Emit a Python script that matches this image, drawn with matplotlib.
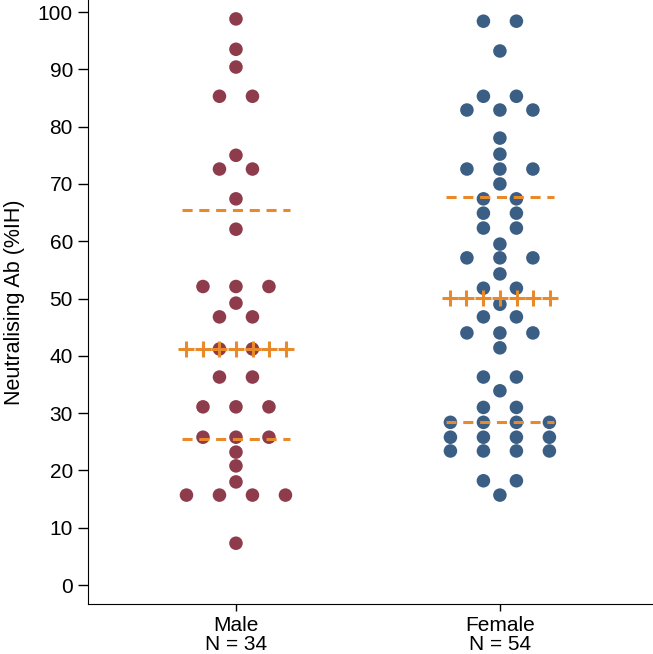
import numpy as np
import matplotlib.pyplot as plt
from collections import Counter

plt.rcParams['font.family'] = ['Liberation Sans', 'DejaVu Sans']
plt.rcParams['font.size'] = 15

# data (%IH)
groups = ['Male', 'Female']
counts = [34, 54]
male_vals = [98.8, 93.5, 90.4, 85.3, 85.3, 75.0, 72.6, 72.6, 67.4, 62.1,
             52.1, 52.1, 52.1, 49.2, 46.8, 46.8, 41.2, 41.2, 36.3, 36.3,
             31.1, 31.1, 31.1, 25.8, 25.8, 25.8, 23.2, 20.8, 18.0,
             15.7, 15.7, 15.7, 15.7, 7.3]
female_vals = [98.4, 98.4, 93.2, 85.3, 85.3, 82.9, 82.9, 82.9, 78.0, 75.2,
               72.6, 72.6, 72.6, 70.0, 67.4, 67.4, 64.9, 64.9, 62.3, 62.3,
               59.5, 57.1, 57.1, 57.1, 54.3, 51.8, 51.8, 49.0, 46.8, 46.8,
               44.0, 44.0, 44.0, 41.4, 36.3, 36.3, 33.9, 31.0, 31.0,
               28.4, 28.4, 28.4, 28.4, 25.8, 25.8, 25.8, 25.8,
               23.4, 23.4, 23.4, 23.4, 18.2, 18.2, 15.7]
# lower quartile, median, upper quartile
male_q = [25.5, 41.2, 65.4]
female_q = [28.4, 50.1, 67.7]

colors = ['#8E3B4C', '#3B5E85']
orange = '#E8892A'
dot_gap = 0.125


def dot_offsets(vals):
    # stack tied values side by side, centred on the group
    n = Counter(vals)
    seen = Counter()
    xs = []
    for v in vals:
        i = seen[v]
        seen[v] += 1
        xs.append((i - (n[v] - 1) / 2) * dot_gap)
    return np.array(xs)


fig = plt.figure(figsize=(6.53, 6.54), dpi=100)
ax = fig.add_axes([0.135, 0.0765, 0.865, 0.9235])

for pos, (vals, q, c) in enumerate(zip([male_vals, female_vals], [male_q, female_q], colors), start=1):
    ax.scatter(pos + dot_offsets(vals), vals, s=95, color=c, edgecolors='none', zorder=2)
    # quartiles as dashed lines, median as a row of plus signs
    for qv in (q[0], q[2]):
        ax.plot([pos - 0.205, pos + 0.205], [qv, qv], color=orange, lw=2.2,
                dashes=(3.3, 2.2), zorder=3)
    ax.plot(pos + np.linspace(-0.19, 0.19, 7), [q[1]] * 7, linestyle='None',
            marker='+', markersize=11, mew=2.2, color=orange, zorder=3)

ax.set_xlim(0.44, 2.58)
ax.set_ylim(-3.3, 102.1)
ax.set_yticks(range(0, 101, 10))
ax.set_xticks([1, 2])
ax.set_xticklabels([f'{g}\nN = {n}' for g, n in zip(groups, counts)], linespacing=1.0)
ax.set_ylabel('Neutralising Ab (%IH)', fontsize=15.5, labelpad=9)
ax.spines['top'].set_visible(False)
ax.spines['right'].set_visible(False)
ax.tick_params(axis='y', length=7, width=1, pad=4)
ax.tick_params(axis='x', length=5, width=1, pad=4)

fig.savefig('out.png', dpi=100)
